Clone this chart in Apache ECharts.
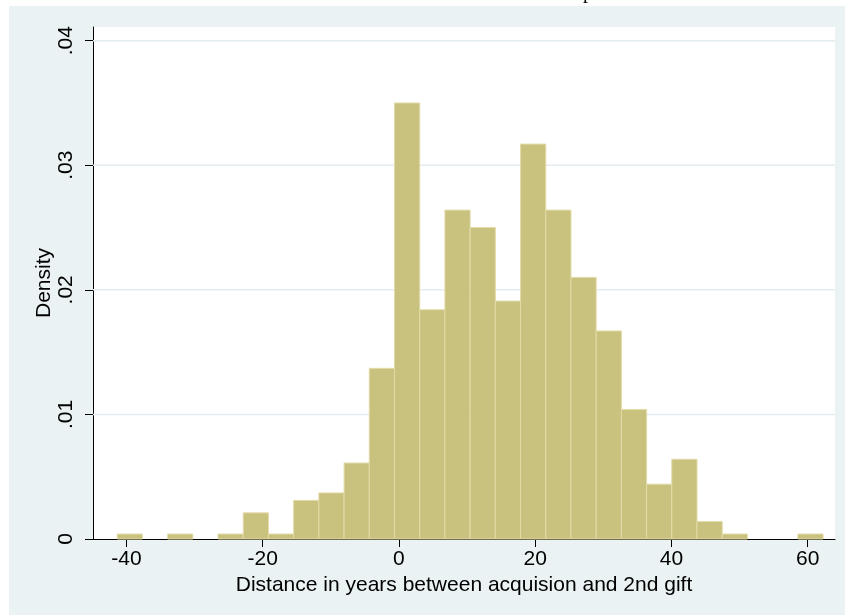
<!DOCTYPE html>
<html>
<head>
<meta charset="utf-8">
<script src="https://cdn.jsdelivr.net/npm/echarts@6/dist/echarts.min.js"></script>
<style>
html,body{margin:0;padding:0;background:#ffffff;}
#chart{width:845px;height:615px;}
</style>
</head>
<body>
<div id="chart"></div>
<script>
// Histogram bin edges (years) and densities
const binEdges = [-41.35, -37.65, -33.95, -30.25, -26.55, -22.85, -19.15, -15.45, -11.75, -8.05,
  -4.35, -0.65, 3.05, 6.75, 10.45, 14.15, 17.85, 21.55, 25.25, 28.95,
  32.65, 36.35, 40.05, 43.75, 47.45, 51.15, 54.85, 58.55, 62.25];
const densities = [0.0004, 0, 0.0004, 0, 0.0004, 0.0021, 0.0004, 0.0031, 0.0037, 0.0061,
  0.0137, 0.0350, 0.0184, 0.0264, 0.0250, 0.0191, 0.0317, 0.0264, 0.0210, 0.0167,
  0.0104, 0.0044, 0.0064, 0.0014, 0.0004, 0, 0, 0.0004];
const xTicks = [-40, -20, 0, 20, 40, 60];
const yTicks = [0, 0.01, 0.02, 0.03, 0.04];
const gridValues = [0.01, 0.02, 0.03, 0.04];

const FONT = 'Liberation Sans, Arial, sans-serif';
const barData = densities.map((d, i) => [binEdges[i], binEdges[i + 1], d]);

const chart = echarts.init(document.getElementById('chart'), null, {renderer: 'canvas'});
chart.setOption({
  animation: false,
  backgroundColor: '#ffffff',
  graphic: [
    {type: 'text', left: 583, top: -17, z: -10,
     style: {text: 'p', font: '20px "Liberation Serif", serif', fill: '#000'}},
    {type: 'rect', shape: {x: 9, y: 6, width: 836, height: 609}, z: -5,
     style: {fill: '#EAF2F3'}}
  ],
  grid: {left: 93, right: 10, top: 27, bottom: 76, show: true,
         backgroundColor: '#ffffff', borderWidth: 0},
  xAxis: {
    type: 'value', min: -44.9, max: 64.0,
    name: 'Distance in years between acquision and 2nd gift',
    nameLocation: 'middle', nameGap: 36, nameMoveOverlap: false,
    nameTextStyle: {fontFamily: FONT, fontSize: 21, color: '#000'},
    axisLine: {show: true, onZero: false, lineStyle: {color: '#000', width: 1}},
    axisTick: {show: true, length: 8, customValues: xTicks, lineStyle: {color: '#000'}},
    axisLabel: {customValues: xTicks, margin: 10, fontFamily: FONT, fontSize: 21, color: '#000'},
    splitLine: {show: false}
  },
  yAxis: {
    type: 'value', min: 0, max: 0.0411,
    name: 'Density', nameLocation: 'middle', nameGap: 38, nameMoveOverlap: false,
    nameTextStyle: {fontFamily: FONT, fontSize: 21, color: '#000'},
    axisLine: {show: true, onZero: false, lineStyle: {color: '#000', width: 1}},
    axisTick: {show: true, length: 8, customValues: yTicks, lineStyle: {color: '#000'}},
    axisLabel: {customValues: yTicks, rotate: 90, margin: 16, fontFamily: FONT, fontSize: 21, color: '#000',
      formatter: v => v === 0 ? '0' : v.toFixed(2).replace(/^0/, '')},
    splitLine: {show: false}
  },
  series: [
    {
      type: 'custom', z: 1, silent: true,
      data: gridValues.map(v => [v]),
      encode: {y: 0},
      renderItem: function (params, api) {
        const y = api.coord([0, api.value(0)])[1];
        const cs = params.coordSys;
        return {type: 'line', shape: {x1: cs.x, y1: y, x2: cs.x + cs.width, y2: y},
                style: {stroke: '#E3ECEF', lineWidth: 1.5}};
      }
    },
    {
      type: 'custom', z: 2,
      data: barData,
      encode: {x: [0, 1], y: 2},
      renderItem: function (params, api) {
        const v = api.value(2);
        if (!v) return null;
        const p0 = api.coord([api.value(0), v]);
        const p1 = api.coord([api.value(1), 0]);
        return {type: 'rect',
                shape: {x: p0[0], y: p0[1], width: p1[0] - p0[0], height: p1[1] - p0[1]},
                style: {fill: '#C9C17E', stroke: '#E2DBA8', lineWidth: 1}};
      }
    }
  ]
});
</script>
</body>
</html>
